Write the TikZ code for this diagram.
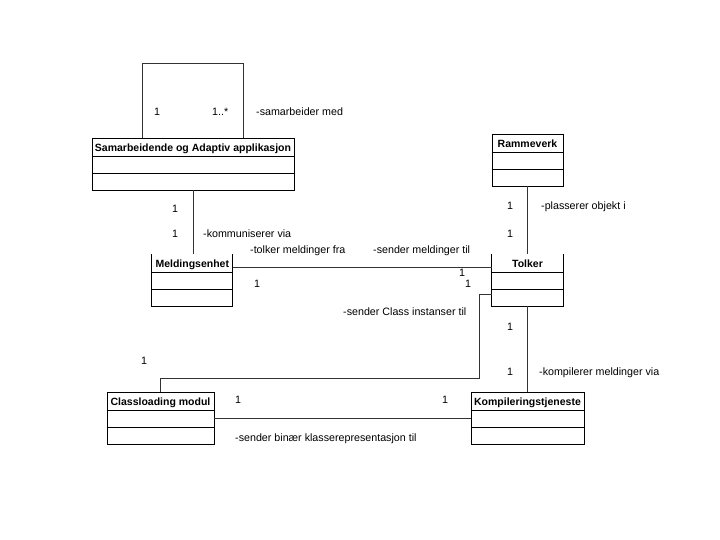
\documentclass[tikz,border=0pt]{standalone}
\usepackage{fontspec}
\setmainfont{Liberation Sans}

\tikzset{
  cls/.style={draw, line width=0.8pt, inner sep=0pt, minimum height=52pt},
  clsopen/.style={inner sep=0pt, minimum height=52pt},
  clsname/.style={font=\fontsize{10.5}{12}\selectfont\bfseries, inner sep=0pt, anchor=base},
  lbl/.style={inner sep=0pt, anchor=base west, yshift=-4pt},
  assoc/.style={line width=0.9pt, black!80},
  sep/.style={line width=0.8pt},
}

\begin{document}
\begin{tikzpicture}[x=1pt, y=-1pt, font=\fontsize{10.7}{12}\selectfont]
  \useasboundingbox[fill=white] (0,0) rectangle (720,540);
  % classes
  \node[cls, minimum width=202pt] (samarb) at (193,164) {};
  \node[cls, minimum width=71pt] (rammeverk) at (527.5,160) {};
  \node[clsopen, minimum width=80.5pt] (meld) at (192.3,280) {};
  \node[clsopen, minimum width=71pt] (tolker) at (527.5,280) {};
  \node[cls, minimum width=107pt] (classl) at (160.5,418) {};
  \node[cls, minimum width=113pt] (kompil) at (527.5,418) {};
  \draw[sep] (meld.north west) -- (meld.south west) -- (meld.south east) -- (meld.north east);
  \draw[sep] (tolker.north west) -- (tolker.south west) -- (tolker.south east) -- (tolker.north east);
  \node[clsname] (samarbname) at ([yshift=-13.5pt]samarb.north) {Samarbeidende og Adaptiv applikasjon};
  \node[clsname] (rammeverkname) at ([yshift=-13.5pt]rammeverk.north) {Rammeverk};
  \node[clsname] (meldname) at ([yshift=-13.5pt]meld.north) {Meldingsenhet};
  \node[clsname] (tolkername) at ([yshift=-13.5pt]tolker.north) {Tolker};
  \node[clsname] (classlname) at ([yshift=-13.5pt]classl.north) {Classloading modul};
  \node[clsname] (kompilname) at ([yshift=-13.5pt]kompil.north) {Kompileringstjeneste};
  % compartments
  \foreach \c in {samarb, rammeverk, meld, tolker, classl, kompil} {
    \draw[sep] ([yshift=-19pt]\c.north west) -- ([yshift=-19pt]\c.north east);
    \draw[sep] ([yshift=-35.5pt]\c.north west) -- ([yshift=-35.5pt]\c.north east);
  }
  % associations
  \coordinate (loopa) at (142,63);
  \coordinate (loopb) at (243,63);
  \draw[assoc] (samarb.north -| loopa) -- (loopa) -- (loopb) -- (samarb.north -| loopb);
  \draw[assoc] (samarb.south) -- (samarb.south |- meld.north);
  \draw[assoc] ([yshift=13pt]meld.east) -- ([yshift=13pt]tolker.west);
  \draw[assoc] (rammeverk.south) -- (tolker.north);
  \coordinate (bendt) at (479,294);
  \coordinate (bendb) at (479,378);
  \draw[assoc] (tolker.west |- bendt) -- (bendt) -- (bendb) -| (classl.north);
  \draw[assoc] (tolker.south) -- (kompil.north);
  \draw[assoc] (classl.east) -- (kompil.west);
  % multiplicities and roles
  \node[lbl] (m1) at (154,112) {1};
  \node[lbl] (m2) at (212,112) {1..*};
  \node[lbl] (r1) at (256,112) {-samarbeider med};
  \node[lbl] (m3) at (172,209) {1};
  \node[lbl] (m4) at (172,233) {1};
  \node[lbl] (r2) at (203,233) {-kommuniserer via};
  \node[lbl] (r3) at (250,249) {-tolker meldinger fra};
  \node[lbl] (r4) at (373,249) {-sender meldinger til};
  \node[lbl] (m5) at (459,272) {1};
  \node[lbl] (m6) at (465,283) {1};
  \node[lbl] (m7) at (254,283) {1};
  \node[lbl] (r5) at (343,311) {-sender Class instanser til};
  \node[lbl] (m8) at (507,206) {1};
  \node[lbl] (m9) at (507,233) {1};
  \node[lbl] (r6) at (541,206) {-plasserer objekt i};
  \node[lbl] (m10) at (507,326) {1};
  \node[lbl] (m11) at (507,371) {1};
  \node[lbl] (r7) at (539,371) {-kompilerer meldinger via};
  \node[lbl] (m12) at (141,360) {1};
  \node[lbl] (m13) at (235,399) {1};
  \node[lbl] (m14) at (442,399) {1};
  \node[lbl] (r8) at (235,437) {-sender binær klasserepresentasjon til};
\end{tikzpicture}
\end{document}
